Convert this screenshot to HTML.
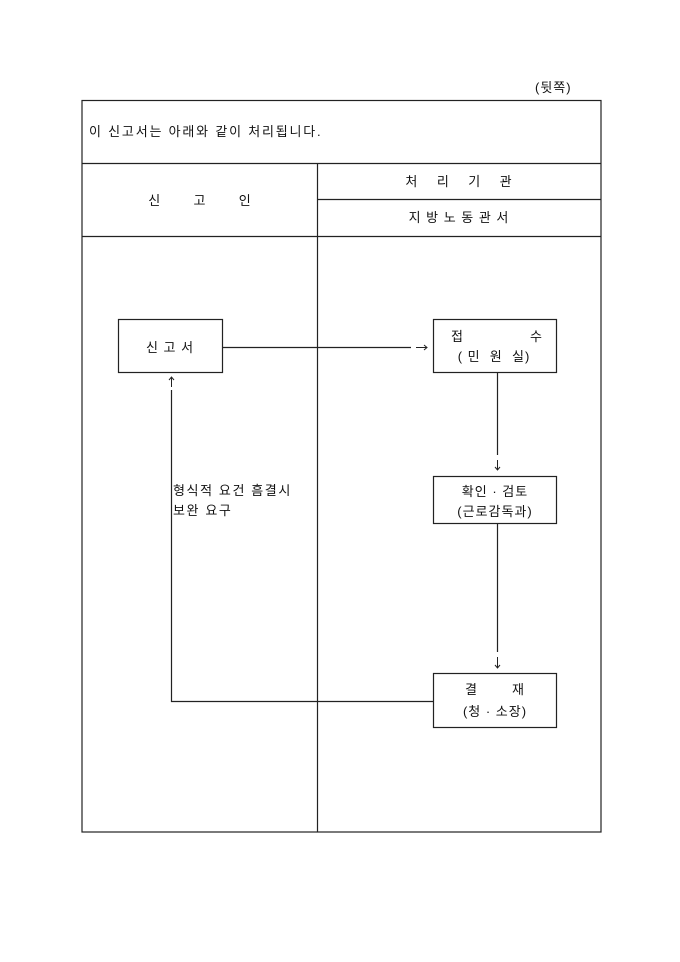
<!DOCTYPE html>
<html><head><meta charset="utf-8"><style>
html,body{margin:0;padding:0;background:#fff}
svg{display:block}
text{font-family:"Liberation Sans","Noto Sans CJK KR","NanumGothic",sans-serif;font-size:13px;fill:#111;letter-spacing:1px}
</style></head><body>
<svg width="680" height="962" viewBox="0 0 680 962" xmlns="http://www.w3.org/2000/svg">
<g stroke="#222" stroke-width="1.2" fill="none">
<rect x="82" y="100.5" width="519" height="731.5"/>
<line x1="82" y1="163.5" x2="601" y2="163.5"/>
<line x1="82" y1="236.5" x2="601" y2="236.5"/>
<line x1="317.5" y1="163.5" x2="317.5" y2="832"/>
<line x1="317.5" y1="199.5" x2="601" y2="199.5"/>
<rect x="118.5" y="319.5" width="104" height="53" fill="#fff"/>
<rect x="433.5" y="319.5" width="123" height="53" fill="#fff"/>
<rect x="433.5" y="476.5" width="123" height="47" fill="#fff"/>
<rect x="433.5" y="673.5" width="123" height="54" fill="#fff"/>
<line x1="222.5" y1="347.5" x2="411" y2="347.5"/>
<line x1="497.5" y1="372.5" x2="497.5" y2="455"/>
<line x1="497.5" y1="523.5" x2="497.5" y2="652"/>
<polyline points="433.5,701.5 171.5,701.5 171.5,390"/>
</g>
<g stroke="#222" stroke-width="1" fill="none">
<line x1="416" y1="347.5" x2="427" y2="347.5"/><polyline points="424,345 427,347.5 424,350"/>
<line x1="497.5" y1="460" x2="497.5" y2="470"/><polyline points="495,467 497.5,470 500,467"/>
<line x1="497.5" y1="657" x2="497.5" y2="668"/><polyline points="495,665 497.5,668 500,665"/>
<line x1="171.5" y1="377" x2="171.5" y2="387"/><polyline points="169,380 171.5,377 174,380"/>
</g>
<text x="535" y="92">(뒷쪽)</text>
<text x="89" y="136" style="letter-spacing:1.8px">이 신고서는 아래와 같이 처리됩니다.</text>
<text x="200" y="205" text-anchor="middle" xml:space="preserve">신       고       인</text>
<text x="459" y="186" text-anchor="middle" xml:space="preserve">처    리    기    관</text>
<text x="459" y="222" text-anchor="middle" xml:space="preserve">지 방 노 동 관 서</text>
<text x="170" y="352" text-anchor="middle" xml:space="preserve">신 고 서</text>
<text x="451" y="341">접</text><text x="530" y="341">수</text>
<text x="494" y="361" text-anchor="middle" xml:space="preserve">( 민  원  실)</text>
<text x="495" y="496" text-anchor="middle">확인 · 검토</text>
<text x="495" y="516" text-anchor="middle">(근로감독과)</text>
<text x="465" y="694">결</text><text x="512" y="694">재</text>
<text x="495" y="716" text-anchor="middle">(청 · 소장)</text>
<text x="173" y="495" style="letter-spacing:1.6px">형식적 요건 흠결시</text>
<text x="173" y="515" style="letter-spacing:1.6px">보완 요구</text>
</svg>
</body></html>
